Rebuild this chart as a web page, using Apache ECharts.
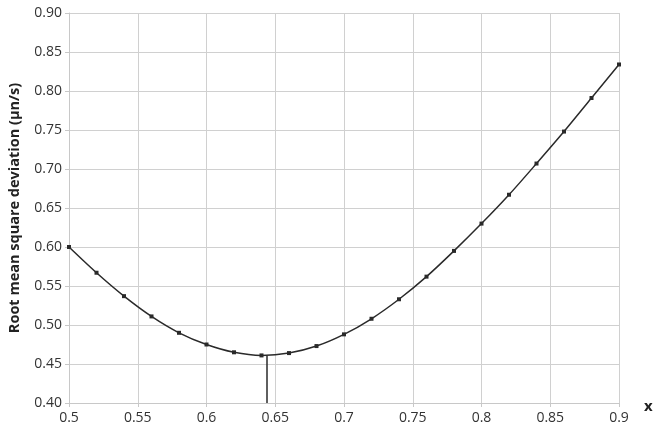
<!DOCTYPE html>
<html><head><meta charset="utf-8">
<script src="https://cdn.jsdelivr.net/npm/echarts@6/dist/echarts.min.js"></script>
<style>html,body{margin:0;padding:0;background:#fff}#c{width:660px;height:435px}</style>
</head><body><div id="c"></div>
<script>
const xValues = [0.50,0.52,0.54,0.56,0.58,0.60,0.62,0.64,0.66,0.68,0.70,0.72,0.74,0.76,0.78,0.80,0.82,0.84,0.86,0.88,0.90];
const rmsd    = [0.600,0.567,0.537,0.511,0.490,0.475,0.465,0.461,0.464,0.473,0.488,0.508,0.533,0.562,0.595,0.630,0.667,0.707,0.748,0.791,0.834];
const minMarkX = 0.644;
const minMarkY = [0.40, 0.461];
const yTitle = 'Root mean square deviation (\u03bcn/s)';
const xTitle = 'x';

const chart = echarts.init(document.getElementById('c'));
const font = '"Open Sans", "DejaVu Sans", sans-serif';
chart.setOption({
  animation: false,
  backgroundColor: '#fff',
  grid: {left: 69, right: 41, top: 13, bottom: 32, containLabel: false, outerBoundsMode: 'none'},
  xAxis: {
    type: 'value', min: 0.5, max: 0.9, interval: 0.05,
    axisLine: {show: true, lineStyle: {color: '#c8c8c8'}},
    axisTick: {show: true, length: 4, lineStyle: {color: '#c8c8c8'}},
    splitLine: {show: true, lineStyle: {color: '#d0d0d0', width: 1}},
    axisLabel: {color: '#333', fontFamily: font, fontSize: 14, margin: 8,
      formatter: v => String(parseFloat(v.toFixed(2)))},
    name: xTitle, nameLocation: 'end', nameGap: 25,
    nameTextStyle: {color: '#222', fontFamily: font, fontSize: 15, fontWeight: 'bold', verticalAlign: 'top', padding: [-4,0,0,0]}
  },
  yAxis: {
    type: 'value', min: 0.40, max: 0.90, interval: 0.05,
    axisLine: {show: true, lineStyle: {color: '#c8c8c8'}},
    axisTick: {show: true, length: 4, lineStyle: {color: '#c8c8c8'}},
    splitLine: {show: true, lineStyle: {color: '#d0d0d0', width: 1}},
    axisLabel: {color: '#333', fontFamily: font, fontSize: 14, margin: 7,
      formatter: v => v.toFixed(2)},
    name: yTitle, nameLocation: 'middle', nameGap: 47,
    nameTextStyle: {color: '#222', fontFamily: font, fontSize: 14.5, fontWeight: 'bold'}
  },
  series: [{
    type: 'line',
    data: xValues.map((x, i) => [x, rmsd[i]]),
    smooth: 0.3,
    symbol: 'rect', symbolSize: 4,
    itemStyle: {color: '#2a2a2a'},
    lineStyle: {color: '#2a2a2a', width: 1.5},
    z: 3
  }, {
    type: 'line',
    data: minMarkY.map(y => [minMarkX, y]),
    symbol: 'none',
    lineStyle: {color: '#2a2a2a', width: 1.5},
    z: 2
  }]
});
</script></body></html>
